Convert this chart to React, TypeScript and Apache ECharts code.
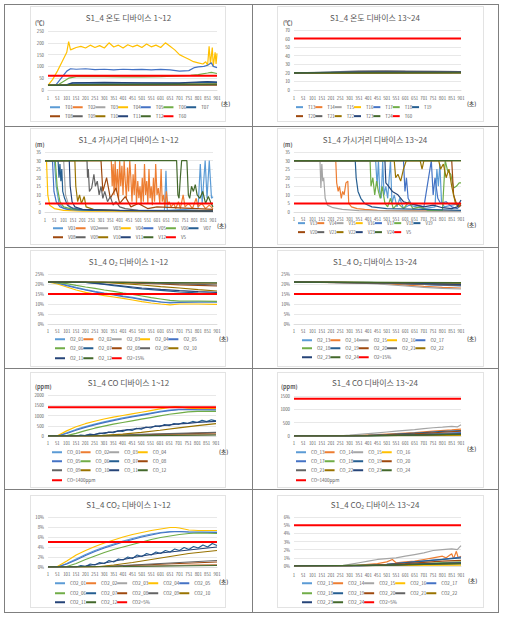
import React, { useEffect, useRef } from "react";
import * as echarts from "echarts";

type Pt = [number, number];

const FONT = "'Noto Sans CJK KR', 'Noto Sans', sans-serif";
const TXT = "#595959";
const RED = "#FF0000";
const COLORS = ["#5B9BD5", "#ED7D31", "#A5A5A5", "#FFC000", "#4472C4", "#70AD47", "#255E91", "#9E480E", "#636363", "#997300", "#264478", "#43682B"];

// x axis: seconds elapsed (label shown = value + 1 -> 1, 51, ..., 901)
// ---------- Temperature 1~12 (℃) ----------
const T01: Pt[] = [[0, 20], [100, 21], [300, 22], [600, 23], [900, 24]];
const T02: Pt[] = [[0, 20], [900, 21]];
const T03: Pt[] = [[0, 20], [900, 22]];
const T04: Pt[] = [[0, 20], [25, 45], [50, 80], [75, 120], [100, 160], [110, 205], [120, 170], [150, 180], [175, 185], [200, 178], [225, 190], [250, 180], [275, 188], [300, 178], [325, 200], [350, 182], [375, 190], [400, 178], [425, 192], [450, 183], [475, 190], [500, 180], [525, 195], [550, 183], [575, 190], [600, 180], [625, 200], [650, 185], [675, 170], [700, 150], [725, 140], [750, 130], [775, 120], [800, 115], [825, 110], [840, 120], [850, 105], [858, 185], [865, 110], [875, 180], [880, 100], [890, 160], [895, 110], [900, 155]];
const T05: Pt[] = [[0, 20], [40, 20], [60, 40], [80, 60], [100, 80], [120, 90], [150, 88], [200, 90], [250, 86], [300, 88], [350, 85], [400, 88], [450, 86], [500, 87], [550, 85], [600, 87], [650, 85], [700, 80], [750, 82], [780, 95], [800, 98], [830, 100], [850, 105], [870, 115], [880, 100], [900, 95]];
const T06: Pt[] = [[0, 20], [50, 20], [80, 35], [110, 50], [150, 57], [200, 58], [300, 57], [400, 56], [500, 56], [600, 57], [700, 60], [760, 62], [800, 65], [850, 72], [870, 75], [900, 70]];
const T07: Pt[] = [[0, 20], [90, 20], [120, 28], [150, 30], [300, 29], [500, 29], [700, 28], [850, 33], [900, 32]];
const T08: Pt[] = [[0, 20], [900, 22]];
const T09: Pt[] = [[0, 20], [900, 23]];
const T10: Pt[] = [[0, 20], [150, 22], [900, 25]];
const T11: Pt[] = [[0, 20], [100, 20], [130, 30], [300, 32], [500, 30], [700, 30], [850, 36], [900, 34]];
const T12: Pt[] = [[0, 20], [120, 22], [300, 24], [600, 24], [900, 25]];

// ---------- Temperature 13~24 (℃) ----------
const T13: Pt[] = [[0, 20], [900, 20.5]];
const T14: Pt[] = [[0, 20], [900, 20.5]];
const T15: Pt[] = [[0, 20], [200, 20.5], [250, 21.5], [350, 22.5], [450, 22.5], [600, 22], [900, 21.5]];
const T16: Pt[] = [[0, 20], [900, 20.3]];
const T17: Pt[] = [[0, 20], [250, 20.5], [400, 21.5], [600, 21], [900, 21]];
const T18: Pt[] = [[0, 20], [900, 20.5]];
const T19: Pt[] = [[0, 20], [300, 21], [500, 21.5], [900, 21]];
const T20: Pt[] = [[0, 20], [900, 20]];
const T21: Pt[] = [[0, 20], [350, 21.5], [500, 22], [900, 21.5]];
const T22: Pt[] = [[0, 20], [900, 20.5]];
const T23: Pt[] = [[0, 20], [400, 21], [900, 21]];
const T24: Pt[] = [[0, 20], [900, 20]];

// ---------- Visibility 1~12 (m) ----------
const V01: Pt[] = [[0, 30], [50, 30], [60, 15], [75, 5], [100, 2], [200, 1], [640, 1], [648, 24], [655, 1], [820, 2], [832, 28], [842, 5], [858, 30], [868, 8], [880, 30], [892, 8], [900, 9]];
const V02: Pt[] = [[0, 30], [355, 30], [360, 15], [365, 28], [370, 10], [376, 30], [381, 12], [388, 25], [394, 8], [400, 30], [406, 15], [412, 27], [418, 10], [424, 30], [430, 18], [436, 8], [442, 26], [448, 12], [454, 30], [460, 20], [466, 6], [472, 22], [478, 10], [484, 28], [490, 5], [497, 18], [503, 8], [509, 15], [515, 4], [521, 20], [527, 6], [533, 28], [539, 10], [545, 18], [551, 5], [557, 25], [563, 8], [569, 15], [575, 4], [581, 20], [587, 6], [593, 28], [600, 10], [607, 14], [615, 5], [622, 25], [628, 6], [635, 10], [642, 3], [650, 12], [658, 4], [665, 6], [675, 3], [690, 5], [700, 2], [715, 6], [725, 2], [740, 10], [750, 3], [770, 5], [790, 2], [810, 8], [820, 3], [840, 5], [860, 2], [880, 4], [900, 2]];
const V03: Pt[] = [[0, 30], [100, 30], [110, 10], [130, 3], [200, 1], [900, 0.5]];
const V04: Pt[] = [[0, 30], [8, 30], [15, 10], [25, 4], [50, 2], [100, 1], [200, 0.5], [900, 0.3]];
const V05: Pt[] = [[0, 30], [40, 30], [48, 12], [60, 6], [80, 3], [120, 1.5], [200, 1], [900, 0.8]];
const V06: Pt[] = [[0, 30], [55, 30], [65, 15], [80, 6], [100, 3], [150, 1.5], [300, 1], [900, 0.8]];
const V07: Pt[] = [[0, 30], [70, 30], [75, 20], [80, 28], [85, 18], [90, 25], [95, 12], [105, 8], [120, 4], [150, 2], [250, 1], [900, 0.8]];
const V08: Pt[] = [[0, 30], [300, 30], [310, 12], [330, 20], [350, 8], [380, 14], [400, 5], [430, 9], [460, 3], [500, 5], [550, 2], [600, 3], [900, 1.5]];
const V09: Pt[] = [[0, 30], [225, 30], [228, 20], [232, 25], [238, 12], [250, 14], [262, 22], [270, 15], [280, 18], [290, 10], [300, 15], [310, 8], [320, 12], [335, 6], [350, 9], [365, 4], [380, 6], [400, 3], [430, 2], [500, 1], [900, 0.5]];
const V10: Pt[] = [[0, 30], [160, 30], [165, 15], [175, 6], [185, 10], [195, 5], [210, 9], [220, 3], [260, 1.5], [400, 0.8], [900, 0.5]];
const V11: Pt[] = [[0, 30], [130, 30], [135, 15], [145, 6], [160, 3], [200, 1.5], [400, 1], [900, 0.5]];
const V12: Pt[] = [[0, 30], [705, 30], [712, 10], [718, 8], [725, 20], [732, 30], [760, 30], [768, 10], [775, 8], [785, 15], [795, 12], [805, 16], [815, 10], [830, 8], [845, 12], [860, 5], [875, 9], [890, 5], [900, 3]];

// ---------- Visibility 13~24 (m) ----------
const V13: Pt[] = [[0, 30], [440, 30], [448, 15], [455, 30], [462, 12], [470, 8], [478, 30], [485, 10], [495, 15], [505, 8], [520, 30], [528, 5], [540, 10], [555, 3], [570, 8], [590, 2], [620, 4], [700, 2], [760, 3], [770, 25], [778, 15], [786, 28], [795, 6], [810, 3], [850, 4], [900, 5]];
const V14: Pt[] = [[0, 30], [225, 30], [230, 17], [238, 12], [245, 15], [255, 8], [262, 12], [270, 10], [280, 17], [290, 18], [295, 5], [310, 3], [340, 2], [380, 1.5], [450, 1], [900, 0.5]];
const V15: Pt[] = [[0, 30], [140, 30], [145, 14], [150, 28], [155, 18], [160, 20], [168, 8], [180, 4], [210, 2.5], [260, 1.5], [350, 0.8], [900, 0.4]];
const V16: Pt[] = [[0, 30], [900, 30]];
const V17: Pt[] = [[0, 30], [590, 30], [598, 12], [606, 20], [615, 8], [630, 5], [660, 4], [700, 3], [740, 30], [750, 10], [760, 20], [775, 8], [790, 5], [820, 6], [850, 3], [880, 2], [900, 4]];
const V18: Pt[] = [[0, 30], [410, 30], [415, 15], [425, 20], [435, 10], [445, 18], [455, 12], [465, 8], [475, 15], [490, 5], [505, 3], [520, 8], [535, 2], [560, 5], [590, 2], [620, 6], [640, 2], [680, 3], [720, 1], [800, 1], [815, 30], [828, 24], [845, 22], [860, 14], [875, 15], [890, 17], [900, 17]];
const V19: Pt[] = [[0, 30], [330, 30], [335, 20], [345, 12], [360, 8], [380, 5], [420, 3], [500, 2], [700, 1.5], [900, 1]];
const V20: Pt[] = [[0, 30], [850, 30], [860, 10], [875, 5], [890, 3], [900, 4]];
const V21: Pt[] = [[0, 30], [900, 30]];
const V22: Pt[] = [[0, 30], [540, 30], [548, 20], [560, 22], [575, 18], [590, 25], [605, 30], [680, 30], [690, 25], [700, 30], [780, 30], [790, 25], [805, 28], [820, 20], [835, 25], [850, 15], [860, 10], [870, 5], [885, 3], [900, 5]];
const V23: Pt[] = [[0, 30], [490, 30], [495, 17], [510, 15], [530, 12], [560, 10], [590, 6], [620, 5], [660, 4], [700, 3], [750, 4], [800, 2.5], [850, 2], [880, 3], [900, 7]];
const V24: Pt[] = [[0, 30], [900, 30]];

// ---------- O2 1~12 (%) ----------
const O2_01: Pt[] = [[0, 21], [50, 20.5], [100, 19.5], [150, 18.3], [200, 17.2], [250, 16.3], [300, 15.5], [350, 14.8], [400, 14], [450, 13.3], [500, 12.5], [550, 11.8], [600, 11], [650, 10.8], [700, 11], [800, 11], [900, 11]];
const O2_02: Pt[] = [[0, 21], [500, 20.8], [900, 20.2]];
const O2_03: Pt[] = [[0, 21], [600, 20.7], [900, 20.5]];
const O2_04: Pt[] = [[0, 21], [50, 20], [100, 18.5], [150, 17], [200, 15.8], [250, 15], [300, 14.2], [350, 13.5], [400, 12.8], [450, 12], [500, 11.2], [550, 10.5], [600, 10], [650, 9.6], [700, 10], [750, 10], [800, 10], [900, 9.8]];
const O2_05: Pt[] = [[0, 21], [50, 20.5], [100, 19.2], [150, 18], [200, 17], [250, 16], [300, 15.2], [350, 14.5], [400, 13.7], [450, 13], [500, 12.2], [550, 11.5], [600, 11], [650, 10.5], [700, 10.8], [800, 11], [900, 11]];
const O2_06: Pt[] = [[0, 21], [100, 20.2], [150, 19.3], [200, 18.5], [250, 17.8], [300, 17], [350, 16.3], [400, 15.5], [450, 14.8], [500, 14], [550, 13.2], [600, 12.5], [650, 11.8], [700, 11.5], [800, 11.5], [900, 11.3]];
const O2_07: Pt[] = [[0, 21], [200, 20.8], [250, 20.3], [300, 19.8], [350, 19.2], [400, 18.7], [450, 18.1], [500, 17.6], [550, 17.2], [600, 16.8], [650, 16.4], [700, 16], [750, 15.8], [800, 15.5], [850, 15.3], [900, 15]];
const O2_08: Pt[] = [[0, 21], [400, 20.7], [500, 20.3], [600, 20], [700, 19.6], [800, 19.3], [900, 19]];
const O2_09: Pt[] = [[0, 21], [400, 20.8], [600, 20.3], [800, 19.8], [900, 19.5]];
const O2_10: Pt[] = [[0, 21], [300, 20.8], [400, 20.2], [500, 19.5], [600, 18.7], [700, 18], [800, 17.2], [900, 16.5]];
const O2_11: Pt[] = [[0, 21], [200, 20.8], [300, 20], [400, 19], [500, 18], [600, 17.3], [700, 16.7], [800, 16.2], [900, 15.8]];
const O2_12: Pt[] = [[0, 21], [900, 20.6]];

// ---------- O2 13~24 (%) ----------
const O2_13: Pt[] = [[0, 20.9], [400, 20.8], [600, 20.3], [750, 19.5], [900, 19]];
const O2_14: Pt[] = [[0, 20.9], [400, 20.6], [550, 19.8], [700, 18.8], [800, 18.3], [900, 18]];
const O2_15: Pt[] = [[0, 20.9], [300, 20.7], [450, 20], [600, 19], [700, 18.3], [800, 17.8], [900, 17.5]];
const O2_16: Pt[] = [[0, 20.9], [900, 20.5]];
const O2_17: Pt[] = [[0, 20.9], [500, 20.6], [700, 19.8], [900, 19.2]];
const O2_18: Pt[] = [[0, 20.9], [900, 20.6]];
const O2_19: Pt[] = [[0, 20.9], [500, 20.5], [700, 20], [900, 19.5]];
const O2_20: Pt[] = [[0, 20.9], [500, 20.6], [700, 20], [900, 19.6]];
const O2_21: Pt[] = [[0, 20.9], [400, 20.7], [600, 20.1], [900, 19.3]];
const O2_22: Pt[] = [[0, 20.9], [900, 20.4]];
const O2_23: Pt[] = [[0, 20.9], [600, 20.5], [900, 19.8]];
const O2_24: Pt[] = [[0, 20.9], [900, 20.7]];

// ---------- CO 1~12 (ppm) ----------
const CO_01: Pt[] = [[0, 0], [50, 0], [100, 150], [150, 320], [200, 460], [250, 580], [300, 690], [350, 790], [400, 880], [450, 960], [500, 1040], [550, 1120], [600, 1200], [650, 1260], [700, 1300], [750, 1300], [800, 1290], [900, 1280]];
const CO_02: Pt[] = [[0, 0], [400, 10], [900, 80]];
const CO_03: Pt[] = [[0, 0], [400, 10], [900, 60]];
const CO_04: Pt[] = [[0, 0], [50, 10], [100, 250], [150, 450], [200, 600], [250, 720], [300, 830], [350, 920], [400, 1000], [450, 1080], [500, 1160], [550, 1240], [600, 1320], [650, 1400], [680, 1440], [700, 1420], [750, 1360], [800, 1340], [900, 1340]];
const CO_05: Pt[] = [[0, 0], [50, 0], [100, 120], [150, 280], [200, 420], [250, 540], [300, 650], [350, 750], [400, 840], [450, 930], [500, 1010], [550, 1090], [600, 1170], [650, 1240], [700, 1280], [750, 1290], [800, 1280], [900, 1270]];
const CO_06: Pt[] = [[0, 0], [100, 20], [150, 130], [200, 260], [250, 380], [300, 480], [350, 580], [400, 660], [450, 740], [500, 820], [550, 900], [600, 980], [650, 1060], [700, 1120], [750, 1180], [800, 1200], [900, 1200]];
const CO_07: Pt[] = [[0, 0], [150, 0], [175, 40], [200, 20], [225, 90], [250, 60], [275, 140], [300, 110], [325, 190], [350, 160], [375, 250], [400, 220], [425, 310], [450, 270], [475, 370], [500, 330], [525, 440], [550, 390], [575, 500], [600, 460], [625, 560], [650, 510], [675, 610], [700, 570], [725, 660], [750, 620], [775, 710], [800, 660], [825, 760], [850, 700], [875, 790], [900, 740]];
const CO_08: Pt[] = [[0, 0], [300, 10], [500, 60], [700, 100], [900, 150]];
const CO_09: Pt[] = [[0, 0], [300, 20], [500, 80], [700, 130], [900, 180]];
const CO_10: Pt[] = [[0, 0], [250, 0], [300, 30], [400, 90], [500, 180], [600, 280], [700, 400], [800, 510], [900, 600]];
const CO_11: Pt[] = [[0, 0], [150, 0], [200, 30], [250, 80], [300, 150], [350, 200], [400, 270], [450, 330], [500, 380], [550, 440], [600, 490], [650, 540], [700, 590], [750, 620], [800, 660], [850, 690], [900, 710]];
const CO_12: Pt[] = [[0, 0], [400, 10], [900, 50]];

// ---------- CO 13~24 (ppm) ----------
const CO_13: Pt[] = [[0, 0], [400, 5], [900, 60]];
const CO_14: Pt[] = [[0, 0], [250, 0], [350, 20], [450, 50], [550, 90], [650, 130], [750, 180], [850, 230], [900, 260]];
const CO_15: Pt[] = [[0, 0], [200, 0], [250, 10], [300, 30], [350, 60], [400, 90], [450, 120], [500, 150], [550, 180], [600, 210], [650, 240], [700, 280], [750, 310], [800, 330], [850, 360], [880, 340], [900, 420]];
const CO_16: Pt[] = [[0, 0], [900, 20]];
const CO_17: Pt[] = [[0, 0], [300, 0], [500, 30], [700, 80], [900, 130]];
const CO_18: Pt[] = [[0, 0], [400, 5], [900, 80]];
const CO_19: Pt[] = [[0, 0], [300, 0], [400, 20], [500, 50], [600, 90], [700, 130], [800, 170], [900, 200]];
const CO_20: Pt[] = [[0, 0], [350, 0], [500, 30], [650, 80], [800, 140], [900, 180]];
const CO_21: Pt[] = [[0, 0], [400, 10], [900, 90]];
const CO_22: Pt[] = [[0, 0], [900, 40]];
const CO_23: Pt[] = [[0, 0], [400, 5], [900, 70]];
const CO_24: Pt[] = [[0, 0], [400, 5], [900, 60]];

// ---------- CO2 1~12 (%) ----------
const CO2_01: Pt[] = [[0, 0], [50, 0], [100, 0.7], [150, 1.6], [200, 2.5], [250, 3.3], [300, 4], [350, 4.6], [400, 5.2], [450, 5.7], [500, 6.2], [550, 6.6], [600, 6.9], [650, 7.1], [700, 7.1], [750, 7], [900, 7]];
const CO2_02: Pt[] = [[0, 0], [400, 0.1], [900, 0.5]];
const CO2_03: Pt[] = [[0, 0], [400, 0.1], [900, 0.4]];
const CO2_04: Pt[] = [[0, 0], [50, 0.1], [100, 1.2], [150, 2.4], [200, 3.3], [250, 4.1], [300, 4.8], [350, 5.4], [400, 6], [450, 6.5], [500, 6.9], [550, 7.3], [600, 7.6], [650, 7.9], [680, 7.9], [700, 7.8], [750, 7.4], [800, 7.3], [900, 7.3]];
const CO2_05: Pt[] = [[0, 0], [50, 0], [100, 0.6], [150, 1.4], [200, 2.3], [250, 3.1], [300, 3.8], [350, 4.4], [400, 5], [450, 5.5], [500, 6], [550, 6.4], [600, 6.8], [650, 7], [700, 7.1], [750, 7], [900, 6.9]];
const CO2_06: Pt[] = [[0, 0], [100, 0.1], [150, 0.7], [200, 1.5], [250, 2.2], [300, 2.9], [350, 3.5], [400, 4], [450, 4.5], [500, 5], [550, 5.5], [600, 5.9], [650, 6.2], [700, 6.5], [750, 6.7], [800, 6.8], [900, 6.7]];
const CO2_07: Pt[] = [[0, 0], [150, 0], [175, 0.3], [200, 0.1], [225, 0.6], [250, 0.4], [275, 0.9], [300, 0.7], [325, 1.3], [350, 1.0], [375, 1.6], [400, 1.4], [425, 2.0], [450, 1.7], [475, 2.4], [500, 2.1], [525, 2.7], [550, 2.4], [575, 3.0], [600, 2.7], [625, 3.3], [650, 3.0], [675, 3.6], [700, 3.3], [725, 3.9], [750, 3.5], [775, 4.1], [800, 3.8], [825, 4.4], [850, 4.0], [875, 4.7], [900, 4.3]];
const CO2_08: Pt[] = [[0, 0], [300, 0.1], [500, 0.4], [700, 0.7], [900, 1]];
const CO2_09: Pt[] = [[0, 0], [300, 0.1], [500, 0.5], [700, 0.9], [900, 1.3]];
const CO2_10: Pt[] = [[0, 0], [250, 0], [350, 0.4], [450, 0.9], [550, 1.5], [650, 2.1], [750, 2.7], [850, 3.1], [900, 3.3]];
const CO2_11: Pt[] = [[0, 0], [150, 0], [200, 0.2], [300, 0.8], [400, 1.5], [500, 2.2], [600, 2.8], [700, 3.2], [800, 3.6], [900, 4]];
const CO2_12: Pt[] = [[0, 0], [400, 0.1], [900, 0.3]];

// ---------- CO2 13~24 (%) ----------
const CO2_13: Pt[] = [[0, 0], [400, 0.05], [900, 0.3]];
const CO2_14: Pt[] = [[0, 0], [300, 0], [400, 0.2], [450, 0.3], [500, 0.5], [530, 0.8], [550, 0.4], [600, 0.5], [650, 0.6], [700, 0.8], [750, 1], [800, 1.2], [820, 1], [850, 1.5], [860, 0.9], [875, 1.8], [885, 1], [900, 1.2]];
const CO2_15: Pt[] = [[0, 0], [250, 0], [300, 0.2], [350, 0.4], [400, 0.6], [450, 0.8], [500, 0.9], [550, 1], [600, 1.2], [650, 1.4], [700, 1.6], [750, 1.9], [800, 2], [850, 2.1], [880, 2], [900, 2.5]];
const CO2_16: Pt[] = [[0, 0], [900, 0.1]];
const CO2_17: Pt[] = [[0, 0], [350, 0], [500, 0.2], [650, 0.5], [800, 0.8], [900, 1.1]];
const CO2_18: Pt[] = [[0, 0], [500, 0.1], [900, 0.5]];
const CO2_19: Pt[] = [[0, 0], [350, 0], [500, 0.2], [650, 0.5], [800, 0.8], [900, 1]];
const CO2_20: Pt[] = [[0, 0], [400, 0.05], [600, 0.3], [800, 0.6], [900, 0.7]];
const CO2_21: Pt[] = [[0, 0], [400, 0.05], [900, 0.4]];
const CO2_22: Pt[] = [[0, 0], [500, 0.1], [900, 0.3]];
const CO2_23: Pt[] = [[0, 0], [500, 0.1], [900, 0.4]];
const CO2_24: Pt[] = [[0, 0], [500, 0.1], [900, 0.3]];

// ---------- names / thresholds ----------
const NAMES_T1 = ["T01", "T02", "T03", "T04", "T05", "T06", "T07", "T08", "T09", "T10", "T11", "T12"];
const NAMES_T2 = ["T13", "T14", "T15", "T16", "T17", "T18", "T19", "T20", "T21", "T22", "T23", "T24"];
const NAMES_V1 = ["V01", "V02", "V03", "V04", "V05", "V06", "V07", "V08", "V09", "V10", "V11", "V12"];
const NAMES_V2 = ["V13", "V14", "V15", "V16", "V17", "V18", "V19", "V20", "V21", "V22", "V23", "V24"];
const NAMES_O1 = ["O2_01", "O2_02", "O2_03", "O2_04", "O2_05", "O2_06", "O2_07", "O2_08", "O2_09", "O2_10", "O2_11", "O2_12"];
const NAMES_O2 = ["O2_13", "O2_14", "O2_15", "O2_16", "O2_17", "O2_18", "O2_19", "O2_20", "O2_21", "O2_22", "O2_23", "O2_24"];
const NAMES_C1 = ["CO_01", "CO_02", "CO_03", "CO_04", "CO_05", "CO_06", "CO_07", "CO_08", "CO_09", "CO_10", "CO_11", "CO_12"];
const NAMES_C2 = ["CO_13", "CO_14", "CO_15", "CO_16", "CO_17", "CO_18", "CO_19", "CO_20", "CO_21", "CO_22", "CO_23", "CO_24"];
const NAMES_D1 = ["CO2_01", "CO2_02", "CO2_03", "CO2_04", "CO2_05", "CO2_06", "CO2_07", "CO2_08", "CO2_09", "CO2_10", "CO2_11", "CO2_12"];
const NAMES_D2 = ["CO2_13", "CO2_14", "CO2_15", "CO2_16", "CO2_17", "CO2_18", "CO2_19", "CO2_20", "CO2_21", "CO2_22", "CO2_23", "CO2_24"];

const REF_T = 60, REF_V = 5, REF_O2 = 15, REF_CO = 1400, REF_CO2 = 5;

// ---------- layout ----------
const COL_L = { x: 5, w: 247 };
const COL_R = { x: 253, w: 244 };
const ROWS = [{ y: 5, h: 121 }, { y: 127, h: 120 }, { y: 248, h: 120 }, { y: 369, h: 120 }, { y: 490, h: 122 }];
const BOX_L = { x: 30, w: 196 };
const BOX_R = { x: 277, w: 207 };
const BOX_ROWS = [{ y: 6, h: 116 }, { y: 128, h: 117 }, { y: 250, h: 117 }, { y: 372, h: 116 }, { y: 495, h: 113 }];

interface Cfg {
  col: { x: number; w: number };
  row: number;
  title: string;
  titleY: number;
  unit?: string;
  unitX?: number;
  unitY?: number;
  plot: [number, number, number, number]; // x1, x2, yTop, yBottom
  yMax: number;
  yInt: number;
  pct?: boolean;
  xLabelY: number;
  secX: number;
  secY: number;
  names: string[];
  data: Pt[][];
  refName: string;
  refValue: number;
  rows: string[][];
  legX: number;
  legY: number[];
  legStep: number;
  iconW: number;
  legFont: number;
}

function split(names: string[], ref: string, sizes: number[]): string[][] {
  const all = [...names, ref];
  const out: string[][] = [];
  let i = 0;
  for (const s of sizes) { out.push(all.slice(i, i + s)); i += s; }
  return out;
}

const CHARTS: Cfg[] = [
  {
    col: COL_L, row: 0, title: "S1_4 온도 디바이스 1~12", titleY: 18, unit: "(℃)", unitX: 35, unitY: 23,
    plot: [48, 217, 31, 90], yMax: 250, yInt: 50, xLabelY: 98, secX: 221, secY: 104,
    names: NAMES_T1, data: [T01, T02, T03, T04, T05, T06, T07, T08, T09, T10, T11, T12], refName: "T60", refValue: REF_T,
    rows: split(NAMES_T1, "T60", [7, 6]), legX: 50, legY: [108, 117], legStep: 23, iconW: 10, legFont: 4.5,
  },
  {
    col: COL_R, row: 0, title: "S1_4 온도 디바이스 13~24", titleY: 18, unit: "(℃)", unitX: 283, unitY: 23,
    plot: [294, 461, 30, 90], yMax: 70, yInt: 10, xLabelY: 98, secX: 467, secY: 104,
    names: NAMES_T2, data: [T13, T14, T15, T16, T17, T18, T19, T20, T21, T22, T23, T24], refName: "T60", refValue: REF_T,
    rows: split(NAMES_T2, "T60", [7, 6]), legX: 296, legY: [108, 117], legStep: 19.3, iconW: 7, legFont: 4.3,
  },
  {
    col: COL_L, row: 1, title: "S1_4 가시거리 디바이스 1~12", titleY: 140, unit: "(m)", unitX: 35, unitY: 145,
    plot: [45, 213, 152, 212], yMax: 35, yInt: 5, xLabelY: 220, secX: 217, secY: 226,
    names: NAMES_V1, data: [V01, V02, V03, V04, V05, V06, V07, V08, V09, V10, V11, V12], refName: "V5", refValue: REF_V,
    rows: split(NAMES_V1, "V5", [7, 6]), legX: 53, legY: [229, 238], legStep: 23, iconW: 10, legFont: 4.5,
  },
  {
    col: COL_R, row: 1, title: "S1_4 가시거리 디바이스 13~24", titleY: 140, unit: "(m)", unitX: 283, unitY: 145,
    plot: [294, 461, 152, 212], yMax: 35, yInt: 5, xLabelY: 219, secX: 467, secY: 225,
    names: NAMES_V2, data: [V13, V14, V15, V16, V17, V18, V19, V20, V21, V22, V23, V24], refName: "V5", refValue: REF_V,
    rows: split(NAMES_V2, "V5", [7, 6]), legX: 298, legY: [224, 233], legStep: 19.3, iconW: 7, legFont: 4.3,
  },
  {
    col: COL_L, row: 2, title: "S1_4 O₂ 디바이스 1~12", titleY: 262,
    plot: [48, 217, 274, 324], yMax: 25, yInt: 5, pct: true, xLabelY: 331, secX: 219, secY: 339,
    names: NAMES_O1, data: [O2_01, O2_02, O2_03, O2_04, O2_05, O2_06, O2_07, O2_08, O2_09, O2_10, O2_11, O2_12], refName: "O2=15%", refValue: REF_O2,
    rows: split(NAMES_O1, "O2=15%", [5, 5, 3]), legX: 55, legY: [340, 349, 359], legStep: 30.3, iconW: 10, legFont: 4.5,
  },
  {
    col: COL_R, row: 2, title: "S1_4 O₂ 디바이스 13~24", titleY: 262,
    plot: [294, 461, 274, 324], yMax: 25, yInt: 5, pct: true, xLabelY: 331, secX: 467, secY: 339,
    names: NAMES_O2, data: [O2_13, O2_14, O2_15, O2_16, O2_17, O2_18, O2_19, O2_20, O2_21, O2_22, O2_23, O2_24], refName: "O2=15%", refValue: REF_O2,
    rows: split(NAMES_O2, "O2=15%", [5, 5, 3]), legX: 302, legY: [341, 349, 358], legStep: 30.5, iconW: 10, legFont: 4.5,
  },
  {
    col: COL_L, row: 3, title: "S1_4 CO 디바이스 1~12", titleY: 383, unit: "(ppm)", unitX: 35, unitY: 387,
    plot: [48, 216, 395, 436], yMax: 2000, yInt: 500, xLabelY: 443, secX: 219, secY: 452,
    names: NAMES_C1, data: [CO_01, CO_02, CO_03, CO_04, CO_05, CO_06, CO_07, CO_08, CO_09, CO_10, CO_11, CO_12], refName: "CO=1400ppm", refValue: REF_CO,
    rows: split(NAMES_C1, "CO=1400ppm", [4, 4, 4, 1]), legX: 52, legY: [453, 462, 471, 481], legStep: 38, iconW: 10, legFont: 4.5,
  },
  {
    col: COL_R, row: 3, title: "S1_4 CO 디바이스 13~24", titleY: 383, unit: "(ppm)", unitX: 281, unitY: 387,
    plot: [294, 461, 396, 436], yMax: 1500, yInt: 500, xLabelY: 443, secX: 467, secY: 449,
    names: NAMES_C2, data: [CO_13, CO_14, CO_15, CO_16, CO_17, CO_18, CO_19, CO_20, CO_21, CO_22, CO_23, CO_24], refName: "CO=1400ppm", refValue: REF_CO,
    rows: split(NAMES_C2, "CO=1400ppm", [4, 4, 4, 1]), legX: 296, legY: [453, 462, 471, 481], legStep: 43, iconW: 10, legFont: 4.5,
  },
  {
    col: COL_L, row: 4, title: "S1_4 CO₂ 디바이스 1~12", titleY: 505,
    plot: [48, 217, 517, 567], yMax: 10, yInt: 2, pct: true, xLabelY: 574, secX: 219, secY: 582,
    names: NAMES_D1, data: [CO2_01, CO2_02, CO2_03, CO2_04, CO2_05, CO2_06, CO2_07, CO2_08, CO2_09, CO2_10, CO2_11, CO2_12], refName: "CO2=5%", refValue: REF_CO2,
    rows: split(NAMES_D1, "CO2=5%", [5, 5, 3]), legX: 55, legY: [584, 594, 603], legStep: 30.3, iconW: 10, legFont: 4.5,
  },
  {
    col: COL_R, row: 4, title: "S1_4 CO₂ 디바이스 13~24", titleY: 505,
    plot: [294, 461, 517, 566], yMax: 6, yInt: 1, pct: true, xLabelY: 575, secX: 468, secY: 581,
    names: NAMES_D2, data: [CO2_13, CO2_14, CO2_15, CO2_16, CO2_17, CO2_18, CO2_19, CO2_20, CO2_21, CO2_22, CO2_23, CO2_24], refName: "CO2=5%", refValue: REF_CO2,
    rows: split(NAMES_D2, "CO2=5%", [5, 5, 3]), legX: 302, legY: [584, 594, 603], legStep: 30.6, iconW: 10, legFont: 4.5,
  },
];

function buildOption(c: Cfg) {
  const ox = c.col.x;
  const oy = ROWS[c.row].y;
  const series: any[] = c.names.map((n, i) => ({
    type: "line", name: n, data: c.data[i], symbol: "none", showSymbol: false,
    lineStyle: { width: 1.2, color: COLORS[i] }, itemStyle: { color: COLORS[i] },
  }));
  series.push({
    type: "line", name: c.refName, data: [[0, c.refValue], [900, c.refValue]], symbol: "none", showSymbol: false,
    lineStyle: { width: 2, color: RED }, itemStyle: { color: RED },
  });
  const legends = c.rows.map((row, r) => ({
    data: row, orient: "horizontal", left: c.legX - ox, top: c.legY[r] - oy - 3,
    itemWidth: c.iconW, itemHeight: 2, itemGap: 0, icon: "rect", padding: 0, selectedMode: false,
    textStyle: { fontSize: c.legFont, color: TXT, fontFamily: FONT, width: c.legStep - c.iconW - 5 },
  }));
  const graphic: any[] = [
    { type: "text", left: c.secX - ox, top: c.secY - oy - 3, style: { text: "(초)", fontSize: 5.5, fontWeight: "bold", fill: TXT, fontFamily: FONT } },
  ];
  if (c.unit) {
    graphic.push({ type: "text", left: (c.unitX as number) - ox, top: (c.unitY as number) - oy - 3, style: { text: c.unit, fontSize: 5.5, fontWeight: "bold", fill: TXT, fontFamily: FONT } });
  }
  return {
    animation: false,
    textStyle: { fontFamily: FONT },
    title: {
      text: c.title, left: "center", top: c.titleY - oy - 5, padding: 0,
      textStyle: { fontSize: 8, fontWeight: "normal", color: TXT, fontFamily: FONT },
    },
    grid: { left: c.plot[0] - ox, top: c.plot[2] - oy, width: c.plot[1] - c.plot[0], height: c.plot[3] - c.plot[2] },
    xAxis: {
      type: "value", min: 0, max: 900, interval: 50,
      axisLine: { lineStyle: { color: "#d9d9d9", width: 0.8 } }, axisTick: { show: false }, splitLine: { show: false },
      axisLabel: { fontSize: 4.3, color: TXT, margin: c.xLabelY - c.plot[3] - 2.5, formatter: (v: number) => String(v + 1), showMinLabel: true, showMaxLabel: true },
    },
    yAxis: {
      type: "value", min: 0, max: c.yMax, interval: c.yInt,
      axisLine: { show: false }, axisTick: { show: false },
      splitLine: { lineStyle: { color: "#d9d9d9", width: 0.6 } },
      axisLabel: { fontSize: 4.3, color: TXT, margin: 4, formatter: (v: number) => (c.pct ? v + "%" : String(v)) },
    },
    legend: legends,
    graphic,
    series,
  };
}

function Chart({ cfg }: { cfg: Cfg }) {
  const ref = useRef<HTMLDivElement>(null);
  useEffect(() => {
    const chart = echarts.init(ref.current as HTMLDivElement, undefined, { renderer: "svg" });
    chart.setOption(buildOption(cfg) as any);
    return () => chart.dispose();
  }, [cfg]);
  const r = ROWS[cfg.row];
  return <div ref={ref} style={{ position: "absolute", left: cfg.col.x, top: r.y, width: cfg.col.w, height: r.h }} />;
}

export default function App() {
  const line = "#7f7f7f";
  const hLines = [126, 247, 368, 489];
  return (
    <div style={{ position: "absolute", left: 0, top: 0, width: 507, height: 620, background: "#fff" }}>
      {BOX_ROWS.map((b, i) => (
        <React.Fragment key={"b" + i}>
          <div style={{ position: "absolute", left: BOX_L.x, top: b.y, width: BOX_L.w, height: b.h, border: "1px solid #e3e3e3", boxSizing: "border-box" }} />
          <div style={{ position: "absolute", left: BOX_R.x, top: b.y, width: BOX_R.w, height: b.h, border: "1px solid #e3e3e3", boxSizing: "border-box" }} />
        </React.Fragment>
      ))}
      <div style={{ position: "absolute", left: 4, top: 4, width: 495, height: 609, border: `1px solid ${line}`, boxSizing: "border-box" }} />
      {hLines.map((y) => (
        <div key={y} style={{ position: "absolute", left: 4, top: y, width: 495, height: 1, background: line }} />
      ))}
      <div style={{ position: "absolute", left: 252, top: 4, width: 1, height: 609, background: line }} />
      {CHARTS.map((c, i) => (
        <Chart key={i} cfg={c} />
      ))}
    </div>
  );
}
